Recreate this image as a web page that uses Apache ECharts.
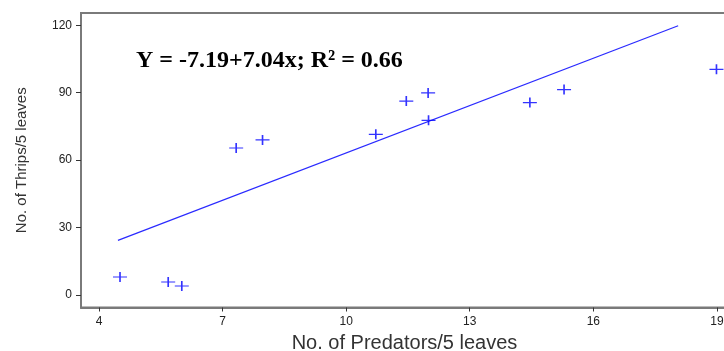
<!DOCTYPE html>
<html>
<head>
<meta charset="utf-8">
<script src="https://cdn.jsdelivr.net/npm/echarts@6/dist/echarts.min.js"></script>
<style>
html,body{margin:0;padding:0;background:#fff;}
#chart{width:724px;height:351px;}
</style>
</head>
<body>
<div id="chart"></div>
<script>
// Observed data: predators (x) vs thrips (y)
var predators = [4.51, 5.68, 6.01, 7.33, 7.97, 10.72, 11.46, 11.99, 12.0, 14.46, 15.29, 18.99];
var thrips    = [8.0, 5.8, 4.0, 65.4, 69.0, 71.5, 86.3, 89.9, 77.7, 85.6, 91.4, 100.4];
// Fitted line endpoints
var fitX = [4.46, 18.06];
var fitY = [24.3, 119.8];
var xTicks = [4, 7, 10, 13, 16, 19];
var yTicks = [0, 30, 60, 90, 120];
var equationText = 'Y = -7.19+7.04x; R\u00B2 = 0.66';
var xTitle = 'No. of Predators/5 leaves';
var yTitle = 'No. of Thrips/5 leaves';

var points = predators.map(function (x, i) { return [x, thrips[i]]; });
var fitLine = fitX.map(function (x, i) { return [x, fitY[i]]; });

var chart = echarts.init(document.getElementById('chart'), null, {renderer: 'canvas'});
var axisGray = '#7a7a7a';
chart.setOption({
  animation: false,
  backgroundColor: '#ffffff',
  title: {
    text: equationText,
    left: 131, top: 44,
    textStyle: {fontFamily: 'Liberation Serif', fontWeight: 'bold', fontSize: 24, color: '#000'}
  },
  grid: {
    left: 81, top: 13, right: -4, bottom: 43.5,
    outerBoundsMode: 'none',
    containLabel: false,
    show: true, borderColor: axisGray, borderWidth: 2, backgroundColor: 'transparent'
  },
  xAxis: {
    type: 'value', min: 3.563, max: 19.27,
    name: xTitle, nameLocation: 'middle', nameGap: 26,
    nameTextStyle: {fontFamily: 'Liberation Sans', fontSize: 20, color: '#333'},
    axisLine: {show: true, onZero: false, lineStyle: {color: axisGray, width: 2}},
    axisTick: {show: true, length: 4, customValues: xTicks, lineStyle: {color: '#333', width: 1}},
    axisLabel: {customValues: xTicks, margin: 8, fontFamily: 'Liberation Sans', fontSize: 12, color: '#222'},
    splitLine: {show: false}
  },
  yAxis: {
    type: 'value', min: -5.56, max: 125.47,
    name: yTitle, nameLocation: 'middle', nameGap: 52, nameRotate: 90,
    nameTextStyle: {fontFamily: 'Liberation Sans', fontSize: 15, color: '#333'},
    axisLine: {show: true, onZero: false, lineStyle: {color: axisGray, width: 2}},
    axisTick: {show: true, length: 5, customValues: yTicks, lineStyle: {color: '#333', width: 1}},
    axisLabel: {customValues: yTicks, margin: 9, fontFamily: 'Liberation Sans', fontSize: 12, color: '#222'},
    splitLine: {show: false}
  },
  series: [
    {
      type: 'line',
      data: fitLine,
      showSymbol: false,
      symbol: 'none',
      lineStyle: {color: '#2a2aff', width: 1.2},
      z: 2
    },
    {
      type: 'scatter',
      data: points,
      symbol: 'path://M0,5L14,5M7,0L7,10',
      symbolSize: [14, 10],
      itemStyle: {color: 'none', borderColor: '#0000ff', borderWidth: 1.4},
      z: 3
    }
  ]
});
</script>
</body>
</html>
